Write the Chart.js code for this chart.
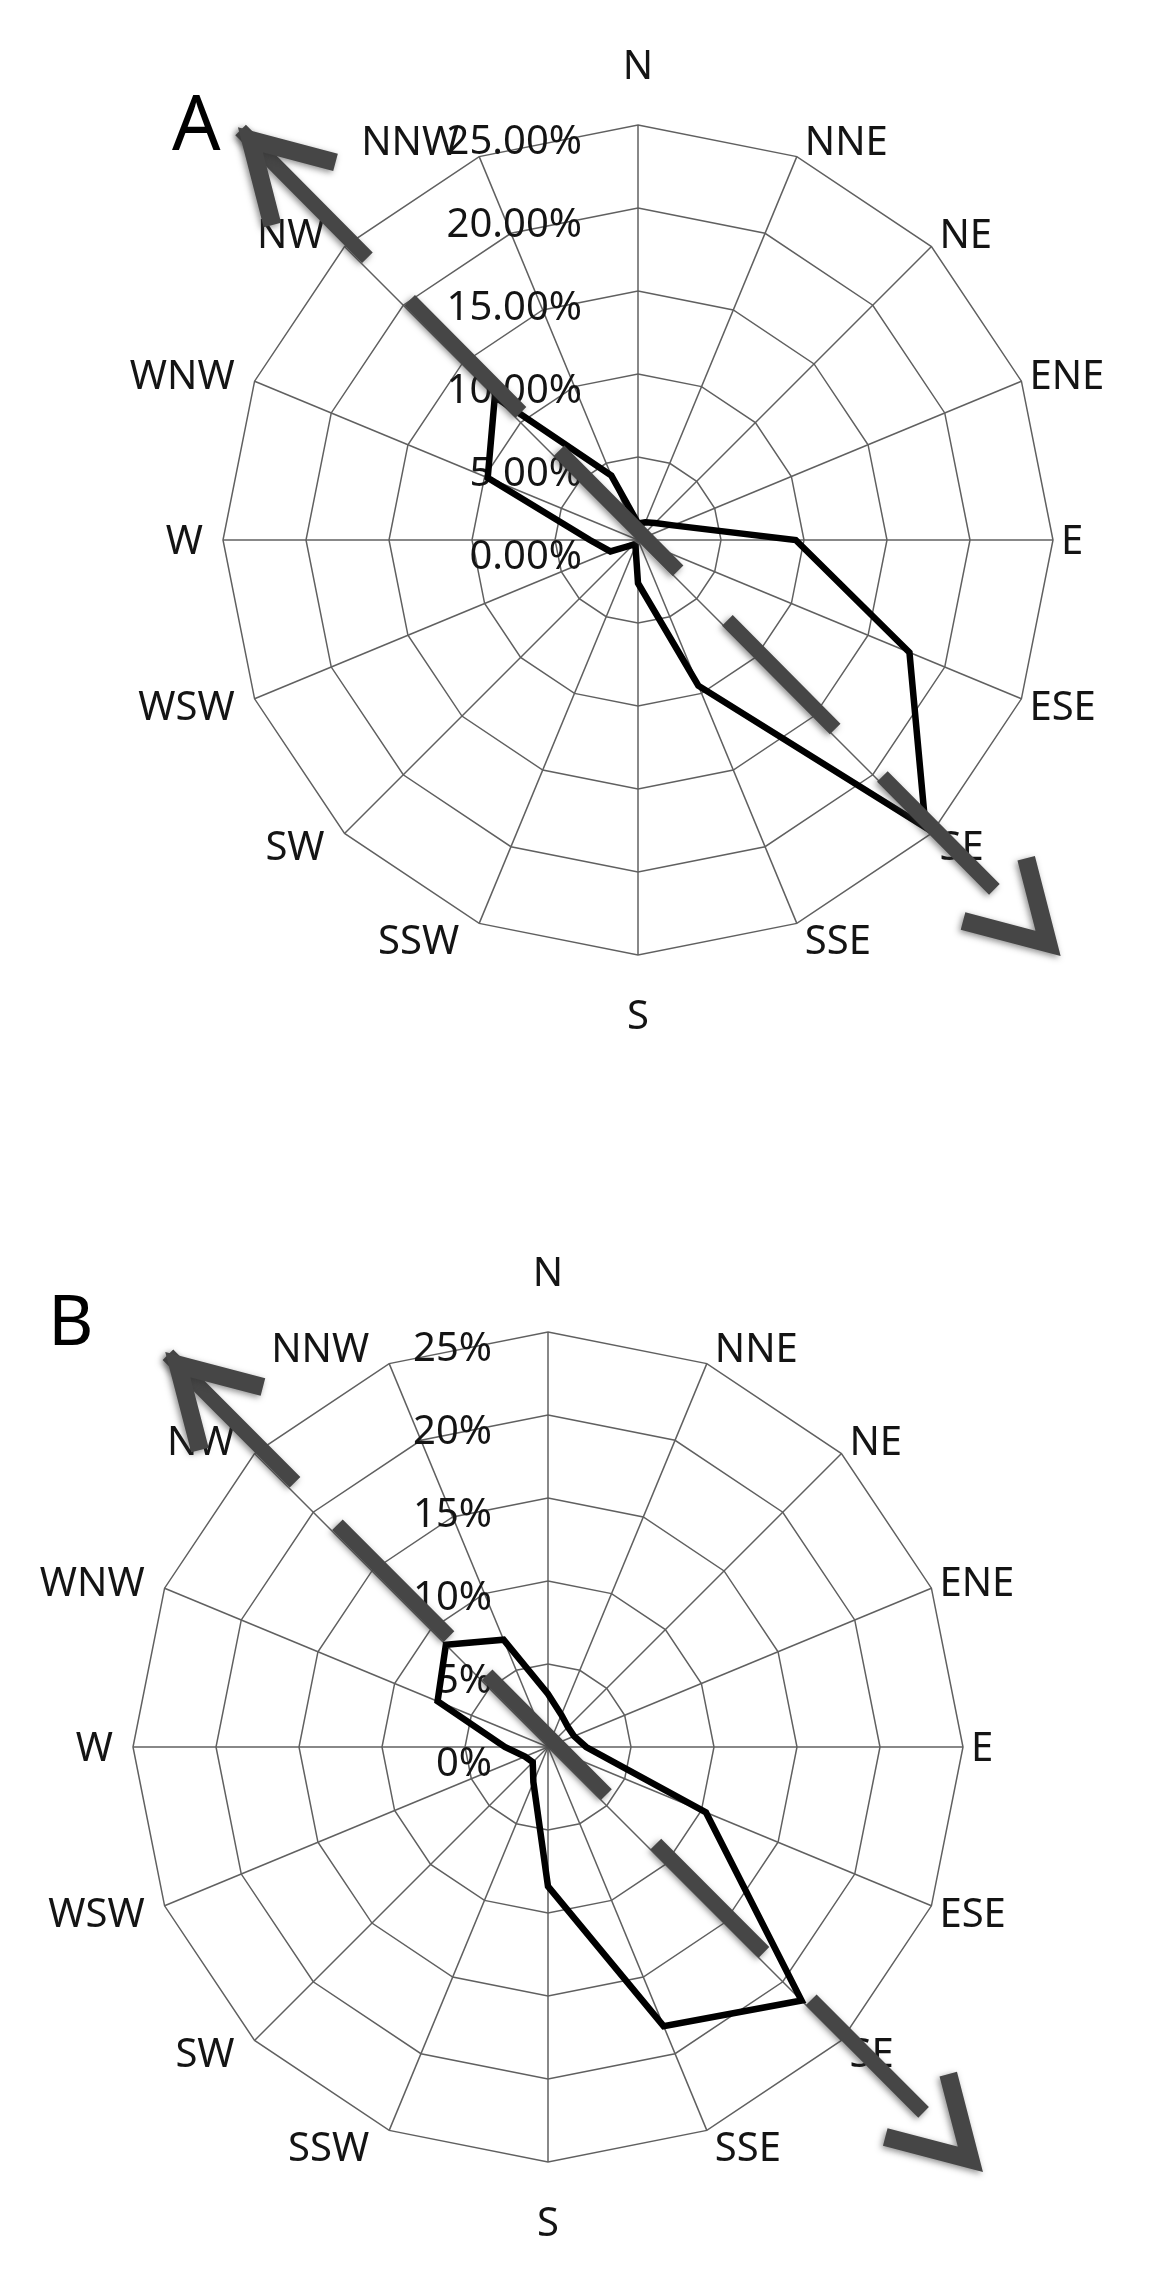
<!DOCTYPE html>
<html>
<head>
<meta charset="utf-8">
<script src="https://cdn.jsdelivr.net/npm/chart.js@4.4.1/dist/chart.umd.min.js"></script>
<style>
  html, body { margin: 0; padding: 0; background: #fff; }
  #wrap { position: relative; width: 1170px; height: 2286px; }
  canvas { position: absolute; left: 0; }
</style>
</head>
<body>
<div id="wrap">
  <canvas id="roseA" width="1170" height="1100" style="top:0"></canvas>
  <canvas id="roseB" width="1170" height="1186" style="top:1100px"></canvas>
</div>
<script>
// wind directions, clockwise from north
const directions = ['N', 'NNE', 'NE', 'ENE', 'E', 'ESE', 'SE', 'SSE', 'S', 'SSW', 'SW', 'WSW', 'W', 'WNW', 'NW', 'NNW'];

// frequency (%) per direction
const freqA = [1.0, 1.15, 1.45, 2.3, 9.5, 17.7, 24.5, 9.5, 2.6, 0.4, 0.4, 1.8, 2.9, 9.8, 12.2, 4.2];
const freqB = [3.2, 2.1, 1.7, 1.7, 2.3, 10.3, 21.6, 18.2, 8.4, 2.3, 1.3, 1.5, 2.6, 7.2, 8.7, 7.0];

// radial axis
const tickValues = [0, 5, 10, 15, 20, 25];
const tickLabelsA = ['0.00%', '5.00%', '10.00%', '15.00%', '20.00%', '25.00%'];
const tickLabelsB = ['0%', '5%', '10%', '15%', '20%', '25%'];

// dominant axis arrows: [direction index, percent] for each end
const arrowA = [[14.04, 34.4], [5.98, 35.5]];
const arrowB = [[14.04, 32.9], [5.97, 36.4]];

const FONT = '"Noto Sans", "Open Sans", sans-serif';

const roseDecor = {
    id: 'roseDecor',
    beforeDatasetsDraw(chart, args, opts) {
        const r = chart.scales.r;
        const ctx = chart.ctx;
        ctx.save();
        ctx.fillStyle = '#141414';
        ctx.font = '40px ' + FONT;

        // tick labels, left of the north axis
        ctx.textAlign = 'right';
        ctx.textBaseline = 'alphabetic';
        tickValues.forEach((v, i) => {
            const y = r.yCenter - r.getDistanceFromCenterForValue(v) + 29;
            ctx.fillText(opts.tickLabels[i], r.xCenter - 56, y);
        });

        // direction labels next to the outer ring corners
        chart.data.labels.forEach((lab, i) => {
            const ang = r.getIndexAngle(i);
            const s = Math.sin(ang), c = Math.cos(ang);
            const v = r.getPointPosition(i, r.drawingArea);
            let align = 'center', x = v.x, lift = 60;
            if (s > 0.1) { align = 'left'; x += 8; lift = 17.5; }
            else if (s < -0.1) { align = 'right'; x -= 20; lift = 17.5; }
            const cy = v.y - c * lift;
            ctx.textAlign = align;
            ctx.fillText(lab, x, cy + 0.357 * 40);
        });

        // panel letter
        ctx.textAlign = 'left';
        ctx.font = opts.letterSize + 'px ' + FONT;
        ctx.fillStyle = '#000';
        ctx.fillText(opts.letter, opts.letterX, opts.letterY);
        ctx.restore();
    },
    afterDatasetsDraw(chart, args, opts) {
        const r = chart.scales.r;
        const ctx = chart.ctx;
        const [a, b] = opts.arrow.map(([idx, v]) =>
            r.getPointPosition(idx, r.getDistanceFromCenterForValue(v)));

        ctx.save();
        ctx.strokeStyle = '#464646';
        ctx.shadowColor = 'rgba(50,50,50,0.55)';
        ctx.shadowBlur = 6;
        ctx.shadowOffsetX = -2;
        ctx.shadowOffsetY = 2;
        ctx.lineCap = 'butt';
        ctx.lineJoin = 'miter';

        // dashed shaft
        ctx.lineWidth = 15;
        ctx.setLineDash([180, 60, 158, 54, 169, 70, 153, 67, 159, 400]);
        ctx.beginPath();
        ctx.moveTo(a.x, a.y);
        ctx.lineTo(b.x, b.y);
        ctx.stroke();
        ctx.setLineDash([]);

        // open chevron heads at both ends
        const head = (tip, from) => {
            const ang = Math.atan2(from.y - tip.y, from.x - tip.x);
            const tx = tip.x + 14 * Math.cos(ang);
            const ty = tip.y + 14 * Math.sin(ang);
            const len = 88, spread = 0.53;
            ctx.lineWidth = 18;
            ctx.beginPath();
            ctx.moveTo(tx + len * Math.cos(ang + spread), ty + len * Math.sin(ang + spread));
            ctx.lineTo(tx, ty);
            ctx.lineTo(tx + len * Math.cos(ang - spread), ty + len * Math.sin(ang - spread));
            ctx.stroke();
        };
        head(a, b);
        head(b, a);
        ctx.restore();
    }
};

function makeRose(id, values, tickLabels, arrow, padding, letter) {
    return new Chart(document.getElementById(id), {
        type: 'radar',
        data: {
            labels: directions,
            datasets: [{
                data: values,
                borderColor: '#000',
                borderWidth: 6.5,
                borderJoinStyle: 'miter',
                pointRadius: 0,
                pointHoverRadius: 0,
                fill: false,
                tension: 0
            }]
        },
        options: {
            responsive: false,
            animation: false,
            layout: { padding: padding },
            plugins: {
                legend: { display: false },
                tooltip: { enabled: false },
                roseDecor: Object.assign({ tickLabels: tickLabels, arrow: arrow }, letter)
            },
            scales: {
                r: {
                    min: 0,
                    max: 25,
                    ticks: { stepSize: 5, display: false },
                    grid: { color: '#606060', lineWidth: 1.5 },
                    angleLines: { color: '#606060', lineWidth: 1.5 },
                    pointLabels: { display: false }
                }
            }
        },
        plugins: [roseDecor]
    });
}

makeRose('roseA', freqA, tickLabelsA, arrowA,
    { left: 223, top: 125, right: 117, bottom: 145 },
    { letter: 'A', letterSize: 76, letterX: 172, letterY: 150 });

makeRose('roseB', freqB, tickLabelsB, arrowB,
    { left: 133, top: 232, right: 207, bottom: 124 },
    { letter: 'B', letterSize: 70, letterX: 48, letterY: 245 });
</script>
</body>
</html>
